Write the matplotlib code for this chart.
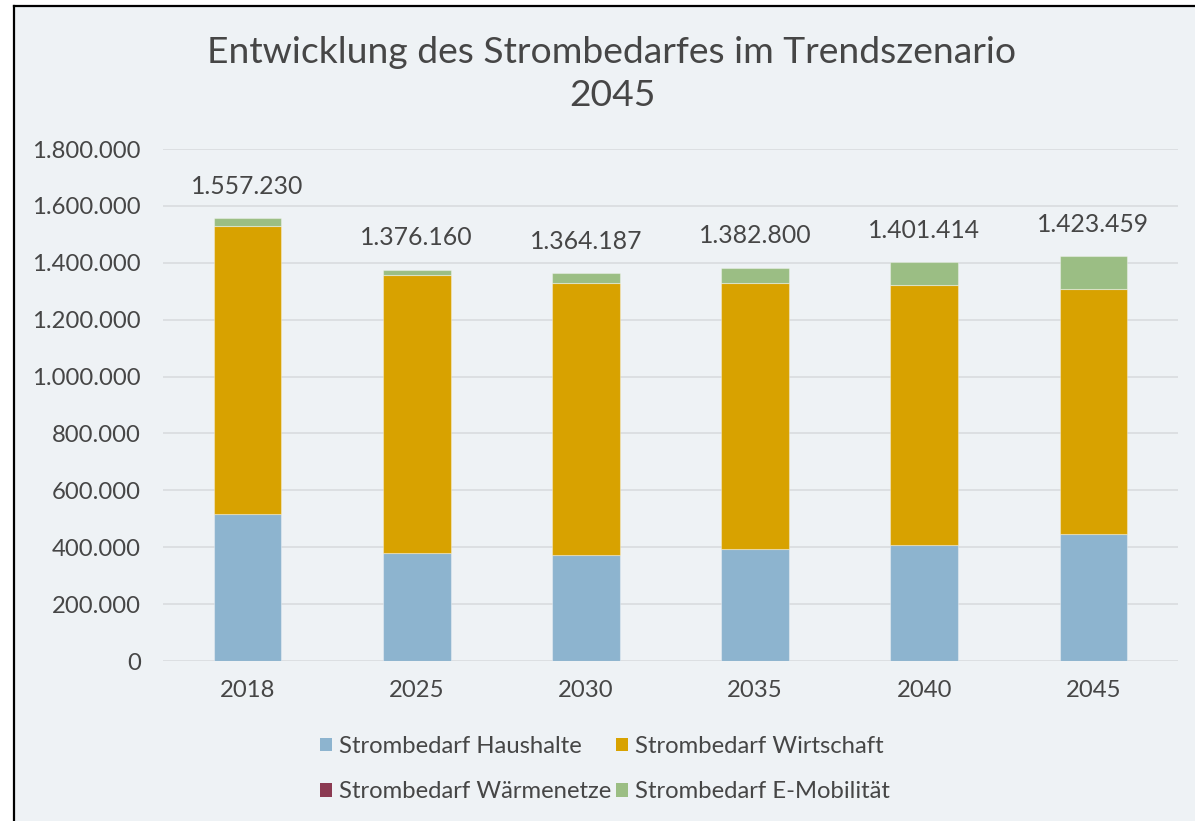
import matplotlib
matplotlib.use("Agg")
import matplotlib.pyplot as plt
from matplotlib.patches import Rectangle, Patch
from matplotlib.lines import Line2D
from matplotlib.ticker import FuncFormatter, MultipleLocator
import numpy as np

# Strombedarf je Jahr (MWh), gestapelt
years = ["2018", "2025", "2030", "2035", "2040", "2045"]
haushalte = [517000, 380000, 372500, 394000, 408000, 446500]
wirtschaft = [1012230, 977160, 956687, 935800, 914414, 862959]
waermenetze = [0, 0, 0, 0, 0, 0]
e_mobilitaet = [28000, 19000, 35000, 53000, 79000, 114000]
totals = [1557230, 1376160, 1364187, 1382800, 1401414, 1423459]

series = [
    ("Strombedarf Haushalte", haushalte, "#8DB4CF"),
    ("Strombedarf Wirtschaft", wirtschaft, "#D8A200"),
    ("Strombedarf Wärmenetze", waermenetze, "#8B3A52"),
    ("Strombedarf E-Mobilität", e_mobilitaet, "#9BBE84"),
]

txt = "#464646"
bg = "#EEF2F5"
plt.rcParams["font.family"] = ["Lato", "DejaVu Sans"]

fig = plt.figure(figsize=(11.95, 8.21), dpi=100, facecolor="white")

# chart area background with the black frame on the left and top
fig.patches.append(Rectangle((14 / 1195, 0), 1, 1 - 6 / 821, transform=fig.transFigure,
                             facecolor=bg, edgecolor="none", zorder=-2))
fig.lines.append(Line2D([14 / 1195, 14 / 1195], [0, 1 - 6 / 821], transform=fig.transFigure,
                        color="black", lw=1.6))
fig.lines.append(Line2D([14 / 1195, 1], [1 - 6 / 821, 1 - 6 / 821], transform=fig.transFigure,
                        color="black", lw=1.6))

ax = fig.add_axes([163 / 1195, 1 - 661 / 821, 1015 / 1195, 512 / 821])
ax.set_facecolor(bg)

x = np.arange(len(years))
bottom = np.zeros(len(years))
for name, vals, col in series:
    ax.bar(x, vals, width=0.4, bottom=bottom, color=col, label=name,
           edgecolor=(1, 1, 1, 0.35), linewidth=0.8, zorder=3)
    bottom += np.array(vals)

for xi, t in zip(x, totals):
    ax.annotate(f"{t:,}".replace(",", "."), (xi, t), xytext=(0, 23),
                textcoords="offset points", ha="center", va="center",
                fontsize=17.8, color=txt)

ax.set_xlim(-0.5, len(years) - 0.5)
ax.set_ylim(0, 1800000)
ax.yaxis.set_major_locator(MultipleLocator(200000))
ax.yaxis.set_major_formatter(FuncFormatter(lambda v, p: f"{int(v):,}".replace(",", ".")))
ax.set_xticks(x)
ax.set_xticklabels(years)
ax.tick_params(axis="both", length=0, labelsize=17.2, labelcolor=txt)
ax.tick_params(axis="y", pad=16)
ax.tick_params(axis="x", pad=14)
ax.grid(axis="y", color="#DCDFE2", linewidth=1.4, zorder=0)
for s in ax.spines.values():
    s.set_visible(False)

fig.text(612 / 1195, 1 - 74 / 821, "Entwicklung des Strombedarfes im Trendszenario\n2045",
         ha="center", va="center", fontsize=26.8, color=txt, linespacing=1.36)

handles = [Patch(facecolor=c, label=n) for n, _, c in series]
order = [0, 2, 1, 3]
fig.legend([handles[i] for i in order], [series[i][0] for i in order],
           ncol=2, loc="center", bbox_to_anchor=(605 / 1195, 1 - 769 / 821),
           frameon=False, fontsize=17.2, labelcolor=txt, handlelength=0.5,
           handleheight=0.5, handletextpad=0.3, columnspacing=0.2, labelspacing=1.02)

fig.savefig("out.png", dpi=100, facecolor="white")
